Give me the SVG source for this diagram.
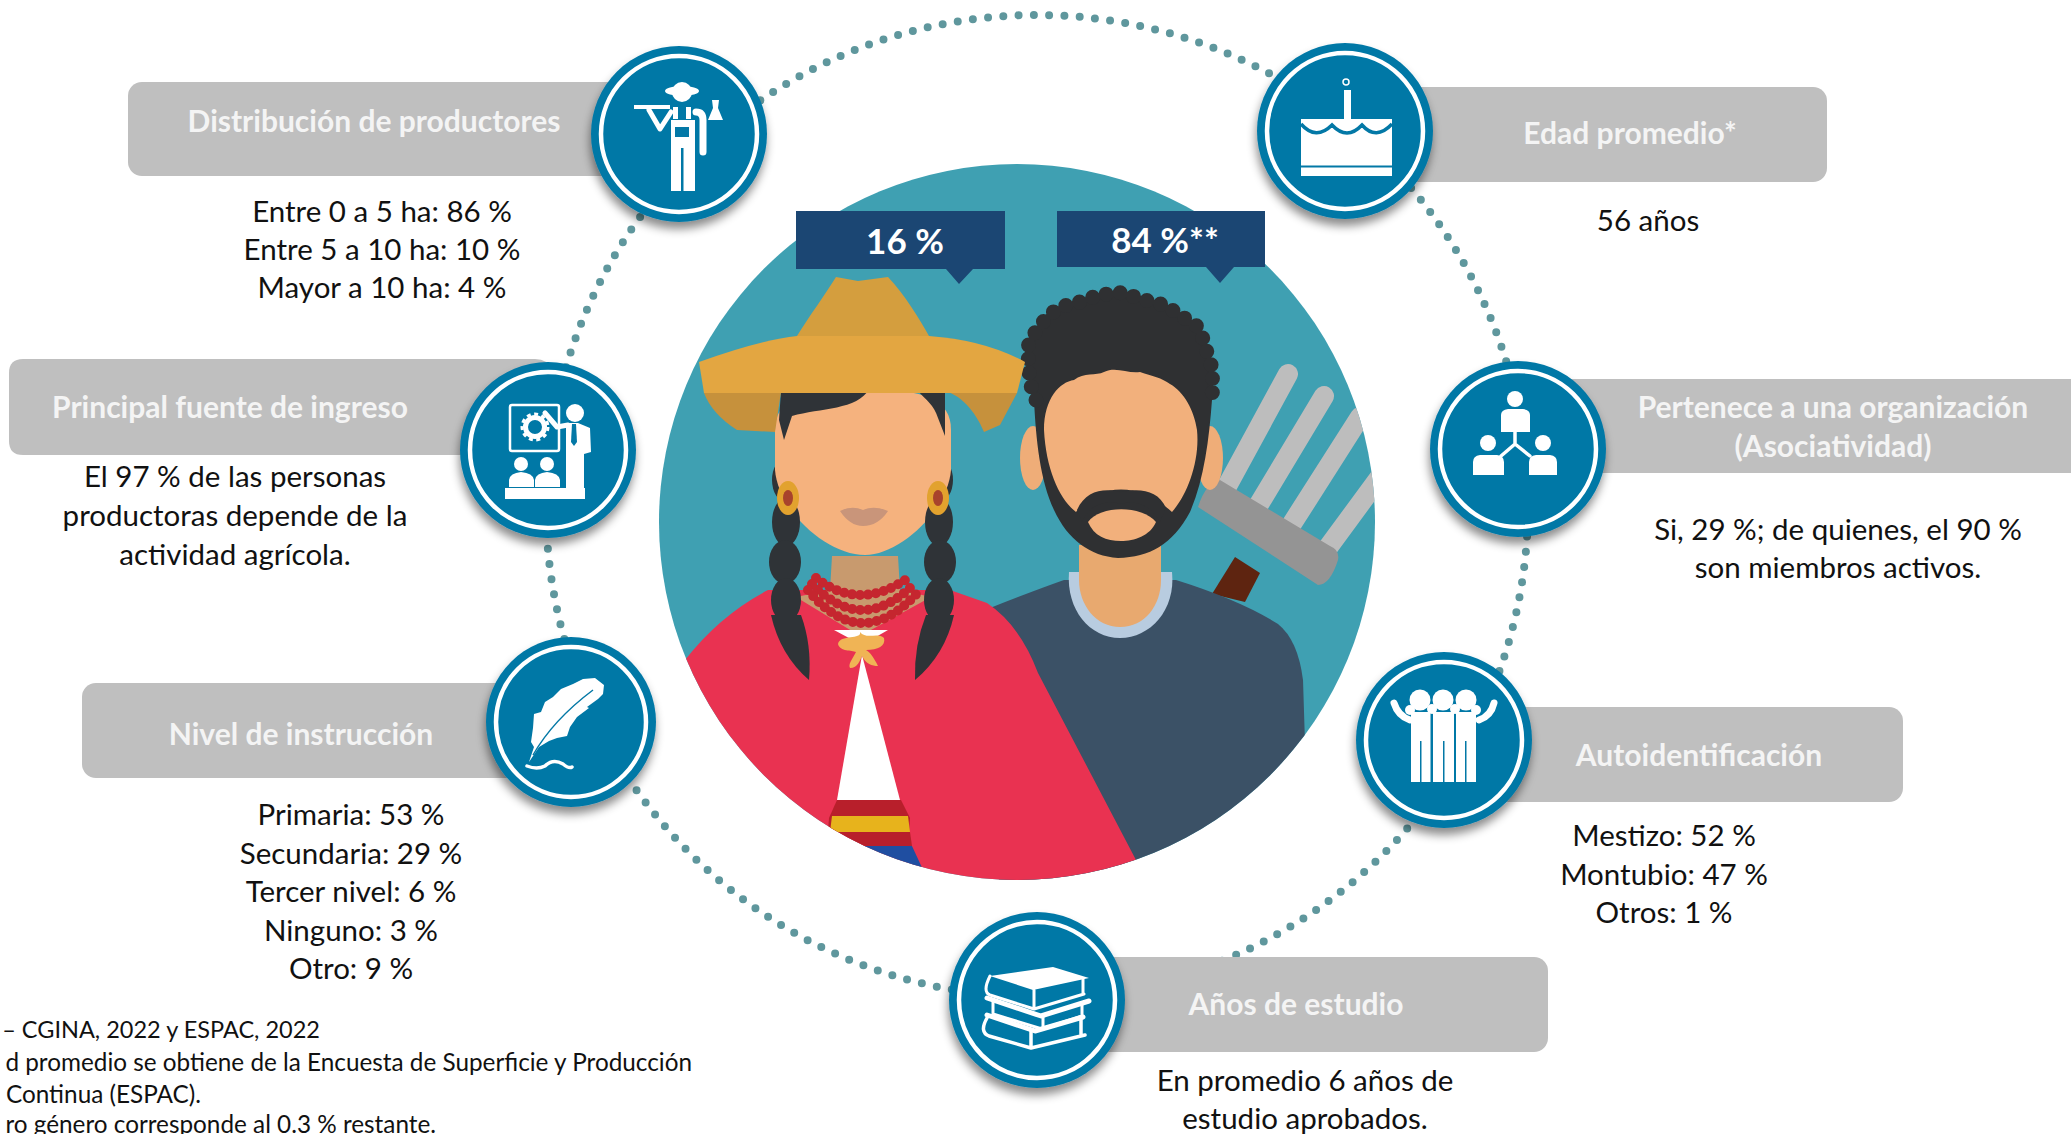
<svg xmlns="http://www.w3.org/2000/svg" width="2071" height="1134" viewBox="0 0 2071 1134">
<style>
text{font-family:Lato,"Open Sans","Liberation Sans",sans-serif;text-anchor:middle}
.h{font-weight:700;font-size:30px;fill:#f4f4f4}
.b{font-size:29.5px;fill:#111}
.f{font-size:24.3px;fill:#111;text-anchor:end}
.c{font-weight:700;font-size:35px;fill:#fff}
.box{fill:#bfbfbf}
.disc{fill:#0378a6;filter:url(#sh)}
.ring{fill:none;stroke:#fff;stroke-width:4.5}
.w{fill:#fff}
.ws{fill:none;stroke:#fff;stroke-linecap:round;stroke-linejoin:round}
.bl{fill:#0378a6}
</style>
<defs>
<filter id="sh" x="-20%" y="-20%" width="140%" height="150%"><feDropShadow dx="-1" dy="7" stdDeviation="5" flood-color="#000" flood-opacity=".45"/></filter>
<clipPath id="cc"><circle cx="1017" cy="522" r="358"/></clipPath>
</defs>

<g id="connectors"><circle cx="1037" cy="506" r="491" fill="none" stroke="#5f979d" stroke-width="8" stroke-linecap="round" stroke-dasharray="0 15.3"/></g>

<g id="portrait"><circle cx="1017" cy="522" r="358" fill="#3fa0b2"/>
<g clip-path="url(#cc)">
<!-- rake -->
<g stroke="#bdbdbd" stroke-width="20" stroke-linecap="round"><path d="M1288 374L1225 490M1324 396L1258 506M1360 417L1288 530M1385 470L1324 553"/></g>
<path d="M1235 557L1260 573 1245 602 1212 594Z" fill="#5e2410"/>
<path d="M1220 480Q1206 482 1198 507L1318 585Q1330 585 1338 560 1340 550 1330 546Z" fill="#949494"/>
<!-- man -->
<path d="M985 610Q1030 592 1064 580L1176 580Q1240 600 1278 624 1298 640 1303 680L1310 900 1000 900Z" fill="#3b5166"/>
<path d="M1069 572C1066 610 1090 638 1120 638 1150 638 1176 610 1172 572Z" fill="#b8cce0"/>
<path d="M1079 545L1161 545 1161 580C1161 605 1145 627 1120 627 1096 627 1079 605 1079 580Z" fill="#e8a96f"/>
<ellipse cx="1033" cy="458" rx="13" ry="32" fill="#efad78"/><ellipse cx="1210" cy="458" rx="13" ry="32" fill="#efad78"/>
<path d="M1113 293C1128 291 1134 299 1150 301 1170 305 1178 316 1192 322 1204 330 1202 342 1208 354 1213 366 1213 382 1212 400 1209 440 1204 480 1190 512 1172 545 1150 557 1118 558 1090 556 1068 540 1054 510 1040 480 1036 440 1034 400 1028 384 1029 366 1028 354 1026 340 1038 330 1046 318 1054 310 1066 304 1080 302 1092 297 1100 295 1113 293Z" fill="#2f3032"/>
<path d="M1036 400C1028 384 1029 366 1028 354 1026 340 1038 330 1046 318 1054 310 1066 304 1080 302 1092 297 1100 295 1113 293 1128 291 1134 299 1150 301 1170 305 1178 316 1192 322 1204 330 1202 342 1208 354 1213 366 1213 382 1212 400" fill="none" stroke="#2f3032" stroke-width="15" stroke-linecap="round" stroke-dasharray="0 14"/>
<path d="M1044 430C1044 398 1060 382 1074 380 1084 372 1096 376 1104 372 1116 366 1128 374 1140 372 1152 376 1162 378 1170 384 1184 392 1194 410 1197 430 1200 460 1188 494 1172 512 1140 482 1100 482 1076 512 1060 500 1046 470 1044 430Z" fill="#f2b07c"/>
<path d="M1077 510C1086 490 1104 488 1121 492 1140 488 1158 490 1166 508L1160 522C1150 504 1134 500 1121 504 1106 500 1090 504 1082 522Z" fill="#2f3032"/>
<path d="M1088 522C1100 505 1142 505 1156 522 1150 536 1134 541 1121 541 1106 541 1094 536 1088 522Z" fill="#f2b07c"/>
<!-- woman: braids behind -->
<g fill="#2f3337">
<ellipse cx="786" cy="480" rx="14" ry="22"/><ellipse cx="939" cy="480" rx="14" ry="22"/>
</g>
<!-- poncho -->
<path d="M768 590Q720 615 685 660L640 760 760 900 1136 900 1136 860 1038 673Q1020 625 987 603L950 590Z" fill="#e93251"/>
<path d="M832 556L898 556 900 590 931 597 860 636 796 597 830 590Z" fill="#c89a6e"/>
<path d="M862 655L837 800 900 800Z" fill="#fff"/>
<path d="M834 630L888 630 862 645Z" fill="#fff"/>
<path d="M837 800L901 800 910 818 829 818Z" fill="#b81f2b"/>
<path d="M829 818L910 818 909 832 828 832Z" fill="#b81f2b"/>
<path d="M832 816L908 816 910 832 830 832Z" fill="#e7b31c"/>
<path d="M830 832L910 832 912 846 850 846Z" fill="#b81f2b"/>
<path d="M850 846L912 846 924 872 880 872Z" fill="#1f4ea1"/>
<path d="M860 632C862 640 840 634 838 644 840 652 852 650 856 652 852 660 848 664 850 668 858 668 860 660 862 656 866 664 872 666 878 666 874 658 870 652 866 650 878 650 886 646 884 638 878 632 866 640 860 632Z" fill="#f0b455"/>
<path d="M816 578Q860 612 908 578" fill="none" stroke="#c5262f" stroke-width="10" stroke-linecap="round" stroke-dasharray="0 8"/>
<path d="M812 584Q862 636 914 584" fill="none" stroke="#c5262f" stroke-width="10" stroke-linecap="round" stroke-dasharray="0 8"/>
<path d="M808 590Q862 656 920 590" fill="none" stroke="#c5262f" stroke-width="10" stroke-linecap="round" stroke-dasharray="0 8"/>
<!-- face, hair -->
<path d="M775 430C775 400 800 389 863 389 926 389 951 400 951 430L951 470C948 510 900 555 865 555 826 555 778 510 775 470Z" fill="#f5b27e"/>
<path d="M781 391L869 389C858 410 820 408 792 416L784 440 779 420Z" fill="#2f3337"/>
<path d="M918 391L945 391 945 436 938 418C934 405 926 400 918 391Z" fill="#2f3337"/>
<path d="M840 511Q852 505 863 510 874 505 888 511 878 526 863 526 850 526 840 511Z" fill="#c9957a"/>
<!-- hat -->
<path d="M704 393L1017 393 1000 425 984 432C975 410 960 395 945 391L945 392 781 392 775 432 737 430Q712 414 704 393Z" fill="#c6913c"/>
<path d="M699 362Q760 340 797 336L929 336Q985 340 1025 362L1017 393 704 393Z" fill="#e3a641"/>
<path d="M836 277L858 281 888 277C905 295 920 320 929 336L797 336C810 315 825 295 836 277Z" fill="#d49e3e"/>
<!-- braids -->
<g fill="#2f3337">
<ellipse cx="786" cy="522" rx="14" ry="24"/><ellipse cx="785" cy="562" rx="16" ry="22"/><ellipse cx="786" cy="600" rx="15" ry="22"/><path d="M771 615L801 615Q812 645 809 680 780 655 771 615Z"/>
<ellipse cx="939" cy="522" rx="14" ry="24"/><ellipse cx="940" cy="562" rx="16" ry="22"/><ellipse cx="939" cy="600" rx="15" ry="22"/><path d="M954 615L926 615Q914 645 915 680 945 655 954 615Z"/>
</g>
<ellipse cx="788" cy="498" rx="11" ry="17" fill="#e2a22e"/><ellipse cx="788" cy="498" rx="5" ry="8" fill="#a8432c"/>
<ellipse cx="938" cy="498" rx="11" ry="17" fill="#e2a22e"/><ellipse cx="938" cy="498" rx="5" ry="8" fill="#a8432c"/>
</g></g>

<g id="callout-16"><path d="M796 211H1005V269H973L959 284 946 269H796Z" fill="#1b4673"/><text class="c" x="905" y="254">16 %</text></g>
<g id="callout-84"><path d="M1057 211H1265V267H1234L1220 283 1206 267H1057Z" fill="#1b4673"/><text class="c" x="1165" y="253">84 %**</text></g>

<g id="node-distribucion">
<rect class="box" x="128" y="82" width="560" height="94" rx="14"/>
<text class="h" x="374" y="132">Distribución de productores</text>
<text class="b" x="382" y="222">Entre 0 a 5 ha: 86 %</text><text class="b" x="382" y="260">Entre 5 a 10 ha: 10 %</text><text class="b" x="382" y="298">Mayor a 10 ha: 4 %</text>
<g transform="translate(679 134)"><circle class="disc" r="88"/><circle class="ring" r="78"/>
<ellipse class="w" cx="3" cy="-43" rx="17" ry="5"/><circle class="w" cx="3" cy="-42" r="10"/>
<rect class="w" x="-45" y="-29" width="36" height="4"/><path class="ws" stroke-width="5" d="M-30 -24L-19 -5-8 -22"/>
<rect class="w" x="-6" y="-27" width="5" height="12"/><rect class="w" x="7" y="-27" width="5" height="12"/>
<path class="w" d="M-8 -14H16V57H4.500V14H2V57H-8Z"/><rect class="bl" x="-4" y="-7" width="14" height="10"/>
<path class="ws" stroke-width="7" d="M17 -22Q24 -22 24 -14V18"/>
<path class="w" d="M33 -34H40L39 -26 44 -14H29L34 -26Z"/>
</g></g>

<g id="node-ingreso">
<path class="box" d="M23 359H535Q548 359 552 370V455H23Q9 455 9 441V373Q9 359 23 359Z"/>
<text class="h" x="230" y="418">Principal fuente de ingreso</text>
<text class="b" x="235" y="487">El 97 % de las personas</text><text class="b" x="235" y="526">productoras depende de la</text><text class="b" x="235" y="565">actividad agrícola.</text>
<g transform="translate(548 450)"><circle class="disc" r="88"/><circle class="ring" r="78"/>
<rect x="-38" y="-45" width="49" height="46" rx="2" fill="none" stroke="#fff" stroke-width="2.500"/>
<circle cx="-13" cy="-23" r="9.500" fill="none" stroke="#fff" stroke-width="5"/><circle cx="-13" cy="-23" r="13" fill="none" stroke="#fff" stroke-width="3" stroke-dasharray="4 3.500"/>
<circle class="w" cx="27" cy="-37" r="9"/><path class="ws" stroke-width="5" d="M-3 -37L9 -23 20 -25"/>
<path class="w" d="M18 -27H30L42 -22 43 2 36 4 36 38H18Z"/><path class="bl" d="M24 -26H28L29 -8 26 -4 23 -8Z"/>
<circle class="w" cx="-27" cy="14" r="7"/><circle class="w" cx="-1" cy="14" r="7"/>
<path class="w" d="M-39 37V30Q-38 23-27 22-15 23-14 30V37ZM-13 37V30Q-12 23-1 22 11 23 12 30V37Z"/>
<rect class="w" x="-43" y="38" width="80" height="11"/>
</g></g>

<g id="node-instruccion">
<rect class="box" x="82" y="683" width="500" height="95" rx="14"/>
<text class="h" x="301" y="745">Nivel de instrucción</text>
<text class="b" x="351" y="825">Primaria: 53 %</text><text class="b" x="351" y="864">Secundaria: 29 %</text><text class="b" x="351" y="902">Tercer nivel: 6 %</text><text class="b" x="351" y="941">Ninguno: 3 %</text><text class="b" x="351" y="979">Otro: 9 %</text>
<g transform="translate(571 722)"><circle class="disc" r="85"/><circle class="ring" r="75"/>
<path class="w" d="M-42 40L-37 25-40 20-38 6-37 -8-30 -10-26 -20-18 -25-10 -33 2 -38 12 -43 24 -44 33 -37 32 -28 27 -23 16 -15 18 -14 6 -5 -1 5-4 14-14 16-22 19-32 25Z"/>
<path d="M-38 33Q-18 -2 22 -32" fill="none" stroke="#0378a6" stroke-width="1.500"/>
<path class="ws" stroke-width="3.500" d="M-44 44Q-34 48-26 44-18 36-8 42-2 47 1 45"/>
</g></g>

<g id="node-edad">
<rect class="box" x="1340" y="87" width="487" height="95" rx="14"/>
<text class="h" x="1630" y="144">Edad promedio*</text>
<text class="b" x="1648" y="231">56 años</text>
<g transform="translate(1345 131)"><circle class="disc" r="88"/><circle class="ring" r="78"/>
<rect class="w" x="-44" y="-12" width="91" height="57"/>
<path d="M-44 -7Q-29 10-13 -6 2 10 17 -6 31 10 47 -7" fill="none" stroke="#0378a6" stroke-width="3.500"/>
<rect class="bl" x="-44" y="34.500" width="91" height="2"/>
<rect class="w" x="-1" y="-41" width="7" height="29"/><circle cx="1" cy="-49" r="3" fill="none" stroke="#fff" stroke-width="1.500"/>
</g></g>

<g id="node-organizacion">
<rect class="box" x="1510" y="379" width="580" height="94" rx="14"/>
<text class="h" x="1833" y="418">Pertenece a una organización</text><text class="h" x="1833" y="457">(Asociatividad)</text>
<text class="b" x="1838" y="540">Si, 29 %; de quienes, el 90 %</text><text class="b" x="1838" y="578">son miembros activos.</text>
<g transform="translate(1518 449)"><circle class="disc" r="88"/><circle class="ring" r="78"/>
<circle class="w" cx="-3" cy="-50" r="8"/><path class="w" d="M-17 -17V-34Q-17 -39-10 -40H5Q12 -39 12 -34V-17Z"/>
<circle class="w" cx="-30" cy="-6" r="8"/><path class="w" d="M-45 26V13Q-45 7-38 6H-21Q-14 7-14 13V26Z"/>
<circle class="w" cx="25" cy="-6" r="8"/><path class="w" d="M11 26V13Q11 7 18 6H32Q39 7 39 13V26Z"/>
<path class="ws" stroke-width="3.500" d="M-3 -17V-5L-17 7M-3 -5L12 7"/>
</g></g>

<g id="node-autoidentificacion">
<rect class="box" x="1430" y="707" width="473" height="95" rx="14"/>
<text class="h" x="1699" y="766">Autoidentificación</text>
<text class="b" x="1664" y="846">Mestizo: 52 %</text><text class="b" x="1664" y="885">Montubio: 47 %</text><text class="b" x="1664" y="923">Otros: 1 %</text>
<g transform="translate(1444 740)"><circle class="disc" r="88"/><circle class="ring" r="78"/>
<circle class="w" cx="-24" cy="-40" r="10.500"/><circle class="w" cx="-1" cy="-40" r="10.500"/><circle class="w" cx="22" cy="-40" r="10.500"/>
<rect class="w" x="-33" y="-28" width="19.500" height="70"/><rect class="w" x="-11" y="-28" width="21" height="70"/><rect class="w" x="12" y="-28" width="20" height="70"/>
<path class="bl" d="M-24 1H-22.500V42H-24ZM-1 1H.5V42H-1ZM21 1H22.500V42H21Z"/>
<path class="ws" stroke-width="7" d="M-50 -37Q-46 -24-34 -20M50 -37Q47 -24 35 -20"/>
<circle class="w" cx="-34" cy="-30" r="5"/><circle class="w" cx="-12" cy="-31" r="5"/><circle class="w" cx="11" cy="-31" r="5"/><circle class="w" cx="32" cy="-30" r="5"/>
</g></g>

<g id="node-estudio">
<rect class="box" x="1030" y="957" width="518" height="95" rx="14"/>
<text class="h" x="1296" y="1015">Años de estudio</text>
<text class="b" x="1305" y="1091">En promedio 6 años de</text><text class="b" x="1305" y="1129">estudio aprobados.</text>
<g transform="translate(1037 1000)"><circle class="disc" r="88"/><circle class="ring" r="78"/>
<path class="w" d="M-47 -24L16 -33 52 -22-4 -10Z"/>
<path class="ws" stroke-width="3" d="M-47 -24Q-55 -8-47 -5L-3 9 47 -6M46 -21V-6M-3 -10V9"/>
<path class="ws" stroke-width="5" d="M-50 -2L4 16 52 1"/>
<path class="ws" stroke-width="3" d="M-44 2V14L5 29 45 16V3M6 16V29"/>
<path class="ws" stroke-width="5" d="M-50 15L-2 31 46 17"/>
<path class="ws" stroke-width="3.500" d="M-50 18Q-58 32-48 36L-6 48 48 35M-6 31V48M44 17V35"/>
</g></g>

<g id="notes">
<text class="f" style="font-size:23.5px" x="320" y="1038">– CGINA, 2022 y ESPAC, 2022</text>
<text class="f" x="692" y="1071">d promedio se obtiene de la Encuesta de Superficie y Producción</text>
<text class="f" x="201" y="1103">Continua (ESPAC).</text>
<text class="f" x="436" y="1133">ro género corresponde al 0.3 % restante.</text>
</g>
</svg>
